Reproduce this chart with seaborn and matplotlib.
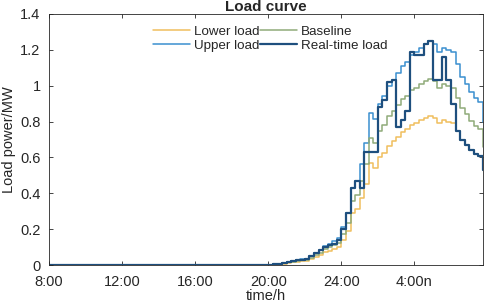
import seaborn as sns
import pandas as pd
import matplotlib.pyplot as plt

# 96 points, one every 15 min starting at 8:00
night = [0.0] * 48

baseline = night + [
    0.0, 0.004, 0.006, 0.01, 0.015, 0.02, 0.025, 0.027, 0.03, 0.04, 0.055, 0.07,
    0.09, 0.10, 0.11, 0.125, 0.175, 0.235, 0.36, 0.39, 0.47, 0.565, 0.71, 0.68,
    0.75, 0.78, 0.83, 0.86, 0.89, 0.925, 0.945, 0.975, 0.99, 1.01, 1.025, 1.04,
    1.025, 0.99, 1.01, 1.0, 0.99, 0.93, 0.875, 0.84, 0.805, 0.775, 0.76, 0.66,
]
upper = night + [
    0.0, 0.005, 0.007, 0.012, 0.018, 0.024, 0.03, 0.032, 0.036, 0.048, 0.066, 0.084,
    0.108, 0.12, 0.132, 0.15, 0.21, 0.29, 0.43, 0.47, 0.564, 0.68, 0.85, 0.816,
    0.90, 0.94, 1.0, 1.03, 1.07, 1.11, 1.13, 1.17, 1.19, 1.21, 1.23, 1.25,
    1.23, 1.19, 1.21, 1.20, 1.19, 1.12, 1.05, 1.01, 0.965, 0.93, 0.91, 0.795,
]
lower = night + [
    0.0, 0.003, 0.005, 0.008, 0.012, 0.016, 0.02, 0.022, 0.024, 0.032, 0.044, 0.056,
    0.072, 0.08, 0.088, 0.10, 0.14, 0.188, 0.288, 0.312, 0.376, 0.452, 0.568, 0.544,
    0.60, 0.625, 0.665, 0.69, 0.715, 0.74, 0.756, 0.78, 0.79, 0.81, 0.82, 0.832,
    0.82, 0.79, 0.81, 0.80, 0.79, 0.746, 0.70, 0.67, 0.644, 0.62, 0.607, 0.53,
]
realtime = night + [
    0.0, 0.005, 0.008, 0.012, 0.02, 0.022, 0.03, 0.03, 0.032, 0.05, 0.07, 0.085,
    0.10, 0.11, 0.12, 0.14, 0.20, 0.29, 0.43, 0.47, 0.43, 0.63, 0.63, 0.63,
    0.88, 0.92, 1.02, 1.03, 0.77, 0.81, 0.86, 1.19, 1.17, 1.17, 1.23, 1.25,
    1.03, 1.03, 1.16, 1.03, 0.90, 0.746, 0.70, 0.67, 0.644, 0.62, 0.607, 0.53,
]

tick_pos = [0, 16, 32, 48, 64, 80]
tick_labels = ["8:00", "12:00", "16:00", "20:00", "24:00", "4:00n"]

series = {
    "Lower load": (lower, "#f0bf5e", 1.1),
    "Upper load": (upper, "#3a8fd0", 1.1),
    "Baseline": (baseline, "#8fab79", 1.1),
    "Real-time load": (realtime, "#1e4f7e", 1.6),
}

sns.set_theme(style="ticks")
plt.rcParams["font.family"] = ["Liberation Sans", "DejaVu Sans"]
plt.rcParams["xtick.direction"] = "in"
plt.rcParams["ytick.direction"] = "in"

fig = plt.figure(figsize=(4.84, 3.04), dpi=100)
ax = fig.add_axes([0.101, 0.128, 0.897, 0.826])

x = list(range(96))
for name in ["Lower load", "Upper load", "Baseline", "Real-time load"]:
    vals, col, lw = series[name]
    df = pd.DataFrame({"t": x, "p": vals})
    sns.lineplot(data=df, x="t", y="p", ax=ax, color=col, linewidth=lw,
                 drawstyle="steps-post", label=name)

ax.set_xlim(0, 95)
ax.set_ylim(0, 1.4)
ax.set_xticks(tick_pos)
ax.set_xticklabels(tick_labels, fontsize=10.5)
ax.set_yticks([0, 0.2, 0.4, 0.6, 0.8, 1.0, 1.2, 1.4])
ax.set_yticklabels(["0", "0.2", "0.4", "0.6", "0.8", "1", "1.2", "1.4"], fontsize=10.5)
ax.tick_params(top=True, right=True, length=3, width=0.6, colors="#262626")
ax.tick_params(axis="x", pad=7)
ax.tick_params(axis="y", pad=6)
for sp in ax.spines.values():
    sp.set_linewidth(0.6)
    sp.set_color("#262626")

ax.set_xlabel("time/h", fontsize=10.5, labelpad=0)
ax.set_ylabel("Load power/MW", fontsize=10.5, labelpad=3)
ax.set_title("Load curve", fontsize=11, fontweight="bold", pad=2)

h, l = ax.get_legend_handles_labels()
ax.legend(h, l, ncol=2, frameon=False, loc="upper center",
          bbox_to_anchor=(0.51, 0.985), fontsize=9.6, handlelength=2.8,
          handletextpad=0.3, columnspacing=0.0, labelspacing=0.1,
          borderaxespad=0.2)

plt.savefig("out.png", dpi=100)
